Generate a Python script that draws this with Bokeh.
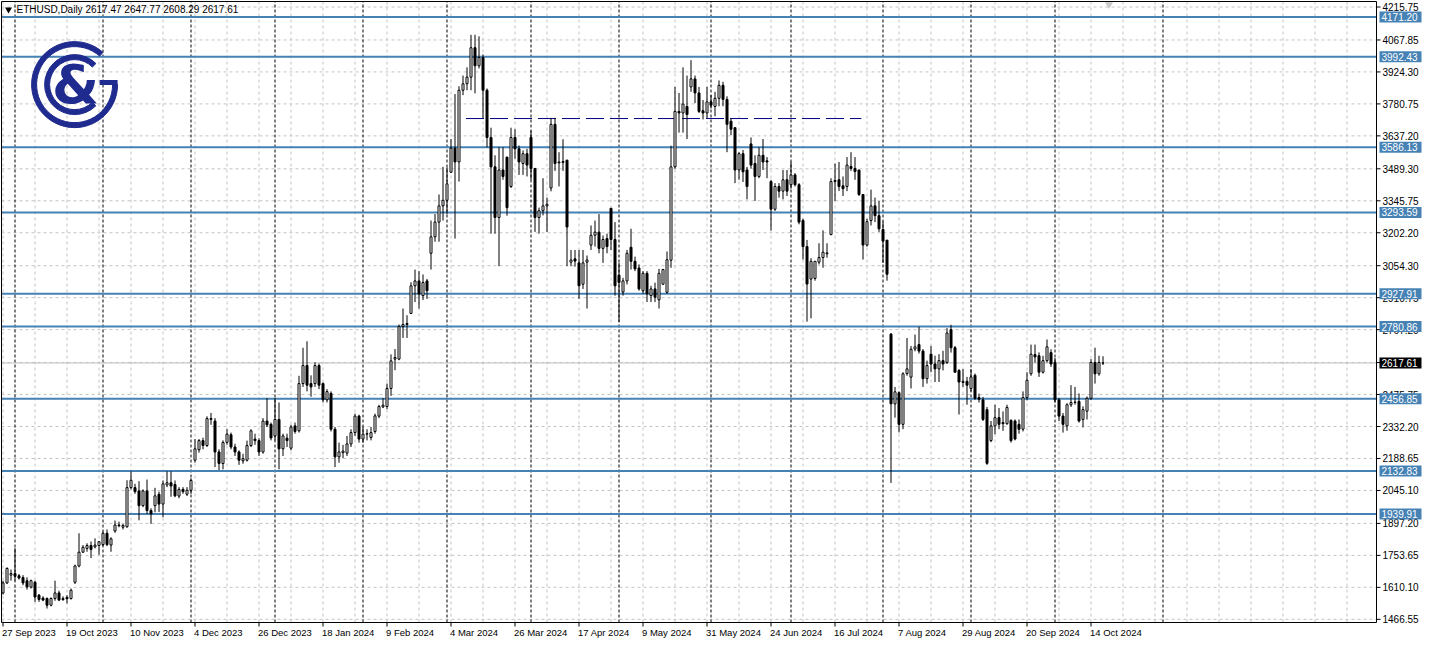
from bokeh.plotting import figure
from bokeh.models import Range1d
from bokeh.embed import file_html
from bokeh.resources import INLINE
from bokeh.core.properties import value

symbol = "ETHUSD,Daily"
header_ohlc = "2617.47 2647.77 2608.29 2617.61"

opens = [1585,1630,1665,1672,1662,1654,1640,1611,1633,1575,1562,1560,1530,1560,1585,1560,1565,1560,1633,1706,
 1768,1785,1798,1792,1798,1802,1853,1800,1863,1890,1880,1882,2058,2058,2043,1977,2043,1955,1977,2028,
 1984,2070,2080,2072,2020,2050,2028,2046,2181,2228,2269,2247,2364,2357,2218,2166,2261,2295,2240,2218,
 2178,2181,2247,2276,2269,2218,2357,2342,2290,2364,2232,2280,2235,2335,2313,2525,2606,2525,2525,2606,
 2525,2452,2481,2320,2196,2215,2213,2254,2305,2379,2276,2298,2283,2310,2379,2420,2422,2503,2635,2635,
 2781,2790,2840,2964,2986,2920,2986,3110,3184,3250,3323,3348,3474,3582,3520,3842,3871,3901,4033,3952,
 3989,3842,3630,3498,3271,3484,3542,3410,3630,3579,3513,3557,3630,3491,3271,3301,3323,3403,3689,3516,
 3518,3528,3070,3085,3067,2971,3070,3147,3191,3205,3132,3176,3312,3172,3012,2936,2986,3137,3074,3044,
 2942,3020,2920,2950,2901,2971,2935,3079,3498,3747,3740,3769,3857,3893,3830,3750,3740,3790,3769,3806,
 3864,3801,3703,3674,3484,3557,3484,3601,3513,3455,3550,3525,3432,3308,3410,3389,3440,3418,3462,3418,
 3257,3140,2994,2997,3070,3091,3108,3194,3432,3440,3413,3410,3500,3491,3484,3374,3147,3257,3323,3279,
 3217,3169,2747,2434,2484,2342,2570,2554,2680,2700,2671,2547,2657,2613,2591,2628,2620,2767,2686,2584,
 2530,2535,2503,2562,2462,2452,2408,2269,2335,2372,2350,2345,2360,2357,2342,2320,2462,2569,2655,2650,
 2576,2628,2664,2620,2452,2379,2335,2430,2440,2445,2364,2401,2459,2620,2569,2617.47]
highs = [1640,1700,1690,1786,1670,1665,1655,1645,1640,1580,1570,1565,1565,1640,1595,1570,1575,1605,1712,1853,
 1800,1808,1816,1830,1818,1860,1870,1835,1910,1905,1895,2091,2131,2075,2087,2050,2094,1965,2057,2040,
 2090,2131,2131,2090,2060,2060,2060,2100,2276,2276,2282,2378,2393,2370,2230,2270,2320,2305,2255,2225,
 2210,2269,2320,2300,2280,2370,2460,2350,2460,2440,2300,2300,2340,2350,2560,2686,2715,2562,2620,2615,
 2530,2500,2490,2330,2260,2250,2290,2320,2390,2385,2330,2320,2330,2390,2430,2460,2525,2656,2680,2790,
 2862,2832,2980,3037,3030,3015,2995,3257,3286,3374,3498,3495,3623,3825,3860,3908,3945,4091,4091,4084,
 4003,3850,3674,3550,3586,3586,3542,3674,3667,3594,3572,3579,3660,3491,3315,3447,3360,3718,3718,3564,
 3622,3530,3125,3125,3125,3125,3100,3235,3257,3286,3190,3198,3312,3250,3067,3000,3125,3220,3095,3060,
 3030,3030,2964,2978,3040,3040,3118,3593,3857,3830,3945,3908,3977,3908,3857,3798,3857,3820,3835,3886,
 3880,3815,3715,3674,3564,3574,3498,3630,3550,3586,3623,3542,3440,3425,3425,3484,3484,3520,3470,3425,
 3265,3170,3088,3074,3155,3213,3155,3447,3513,3520,3455,3542,3564,3542,3484,3374,3265,3396,3360,3345,
 3252,3169,2752,2510,2490,2576,2730,2694,2745,2780,2680,2628,2694,2650,2657,2672,2774,2789,2694,2590,
 2590,2555,2590,2570,2480,2465,2420,2357,2430,2415,2400,2430,2364,2364,2364,2490,2576,2700,2700,2665,
 2650,2723,2679,2640,2460,2393,2437,2518,2510,2481,2423,2467,2635,2686,2650,2647.77]
lows = [1578,1625,1640,1640,1645,1620,1600,1605,1545,1545,1548,1515,1525,1550,1548,1550,1538,1555,1625,1700,
 1765,1770,1742,1785,1757,1795,1795,1770,1855,1880,1870,1878,2050,2030,1911,1970,1940,1895,1947,1948,
 1925,2060,2017,2015,2010,2030,2020,2030,2170,2215,2230,2240,2340,2150,2137,2140,2250,2230,2200,2160,
 2165,2175,2240,2250,2200,2210,2330,2270,2270,2140,2200,2240,2225,2300,2305,2510,2490,2466,2510,2500,
 2440,2440,2310,2150,2170,2190,2200,2240,2290,2260,2260,2270,2270,2300,2370,2415,2410,2470,2585,2630,
 2730,2730,2840,2891,2862,2900,2905,3037,3162,3162,3257,3286,3470,3176,3432,3820,3842,3842,3828,3940,
 3718,3586,3198,3198,3052,3440,3279,3403,3535,3462,3462,3455,3440,3206,3198,3280,3206,3388,3480,3410,
 3480,3052,3052,3050,2905,2950,2862,3125,3140,3110,3067,3110,3125,2920,2803,2920,2970,3037,3030,2942,
 2928,2891,2891,2891,2862,2970,2928,3045,3490,3652,3652,3623,3835,3784,3740,3711,3718,3760,3725,3770,
 3770,3564,3640,3425,3440,3430,3352,3490,3345,3447,3484,3447,3213,3300,3360,3352,3367,3400,3410,3240,
 3082,2803,2818,2987,3060,3045,3090,3191,3345,3390,3367,3389,3480,3440,3367,3082,3140,3235,3250,3206,
 3067,2987,2079,2372,2306,2320,2560,2503,2670,2660,2510,2525,2576,2532,2532,2584,2613,2664,2576,2386,
 2510,2430,2490,2452,2440,2357,2160,2262,2298,2320,2313,2340,2260,2270,2300,2310,2450,2560,2620,2555,
 2570,2620,2600,2440,2357,2305,2313,2420,2430,2350,2328,2364,2452,2525,2560,2608.29]
closes = [1630,1695,1672,1660,1652,1630,1612,1640,1567,1556,1553,1530,1560,1585,1553,1555,1559,1597,1706,1768,
 1790,1798,1780,1800,1815,1853,1802,1828,1890,1887,1888,2058,2091,2040,1977,2043,1955,1940,2021,1984,
 2075,2080,2065,2021,2050,2040,2046,2090,2232,2269,2247,2368,2368,2218,2166,2261,2298,2240,2218,2181,
 2188,2247,2313,2269,2218,2357,2340,2281,2364,2232,2290,2269,2330,2310,2525,2606,2518,2510,2606,2518,
 2452,2489,2320,2196,2218,2222,2254,2305,2379,2276,2298,2300,2305,2380,2422,2428,2503,2627,2642,2781,
 2790,2795,2964,2986,2927,2979,2942,3184,3250,3323,3348,3422,3582,3520,3842,3871,3901,4033,3952,3989,
 3842,3630,3498,3271,3484,3455,3315,3630,3579,3520,3557,3506,3491,3271,3301,3323,3330,3689,3513,3520,
 3522,3228,3080,3075,2964,3067,3080,3191,3205,3132,3172,3140,3172,2964,2979,2986,3110,3074,3040,2950,
 3020,2928,2950,2913,3020,3037,3081,3498,3747,3740,3780,3733,3893,3830,3747,3740,3790,3775,3806,3864,
 3801,3689,3667,3484,3557,3476,3410,3506,3455,3550,3520,3520,3308,3410,3389,3440,3389,3462,3418,3250,
 3140,2972,3074,3074,3091,3115,3112,3432,3437,3410,3400,3506,3491,3477,3374,3147,3252,3323,3279,3220,
 3165,3016,2434,2488,2342,2569,2591,2679,2690,2671,2547,2606,2613,2591,2628,2613,2752,2686,2576,2532,
 2535,2518,2555,2459,2455,2364,2167,2335,2372,2342,2345,2418,2269,2276,2320,2462,2540,2657,2645,2576,
 2628,2690,2613,2452,2379,2342,2430,2440,2442,2357,2408,2459,2620,2569,2620,2617.61]

date_label_bars = [0,16,32,48,64,80,96,112,128,144,160,176,192,208,224,240,256,272]
date_labels = ["27 Sep 2023","19 Oct 2023","10 Nov 2023","4 Dec 2023","26 Dec 2023","18 Jan 2024",
 "9 Feb 2024","4 Mar 2024","26 Mar 2024","17 Apr 2024","9 May 2024","31 May 2024","24 Jun 2024",
 "16 Jul 2024","7 Aug 2024","29 Aug 2024","20 Sep 2024","14 Oct 2024"]
grid_bars = list(range(0, 344, 8))
month_start_bars = [3,25,47,68,90,111,132,154,177,197,220,242,263,290]
price_ticks = [4215.75,4067.85,3924.30,3780.75,3637.20,3489.30,3345.75,3202.20,3054.30,2910.75,
 2767.20,2619.30,2475.75,2332.20,2188.65,2045.10,1897.20,1753.65,1610.10,1466.55]
levels = [4171.20,3992.43,3586.13,3293.59,2927.91,2780.86,2456.85,2132.83,1939.91]
range_level = 3715.0
range_start_bar = 115.75
range_end_bar = 214.6
last_price = 2617.61
shift_marker_bar = 276.5

# ---- layout (pixels) ----
W, H = 1422, 642
CH_L, CH_R, CH_T, CH_B = 1, 1376, 1, 622      # chart area edges on the canvas
PX_PER_BAR = 4.0
X0 = -0.375                                    # bar value at the chart's left edge
X1 = X0 + (CH_R - CH_L) / PX_PER_BAR
Y0, Y1 = 1452.3, 4240.5                        # price range of the chart area
sx = PX_PER_BAR
sy = (CH_B - CH_T) / (Y1 - Y0)
def dxp(px): return px / sx
def dyp(px): return px / sy

FONT = "Liberation Sans"
BLUE = "#4682B4"
NAVY = "#1f2b8e"
GRID = "#c4c4c4"

p = figure(width=W, height=H,
           x_range=Range1d(X0 - dxp(CH_L), X0 + dxp(W - CH_L)),
           y_range=Range1d(Y0 - dyp(H - CH_B), Y1 + dyp(CH_T)),
           x_axis_location=None, y_axis_location=None, output_backend="svg",
           toolbar_location=None, min_border=0)
p.outline_line_color = None
p.xgrid.visible = False
p.ygrid.visible = False
p.background_fill_color = "white"
p.border_fill_color = "white"

# grid lines
p.segment(x0=grid_bars, y0=[Y0] * len(grid_bars), x1=grid_bars, y1=[Y1] * len(grid_bars),
          line_color=GRID, line_dash="3 3", line_width=1)
p.segment(x0=[X0] * len(price_ticks), y0=price_ticks, x1=[X1] * len(price_ticks), y1=price_ticks,
          line_color=GRID, line_dash="3 3", line_width=1)

# month separators
p.segment(x0=month_start_bars, y0=[Y0] * len(month_start_bars), x1=month_start_bars,
          y1=[Y1] * len(month_start_bars), line_color="black", line_dash="3 2", line_width=1)

# current price line
p.segment(x0=[X0], y0=[last_price], x1=[X1], y1=[last_price], line_color="#c0c0c0", line_width=1)

# support / resistance levels
p.segment(x0=[X0] * len(levels), y0=levels, x1=[X1] * len(levels), y1=levels,
          line_color=BLUE, line_width=2)

# range line
p.segment(x0=[range_start_bar], y0=[range_level], x1=[range_end_bar], y1=[range_level],
          line_color="#000080", line_dash="18 6", line_width=1)

# candles
n = len(closes)
idx = list(range(n))
tops = [max(a, b) for a, b in zip(opens, closes)]
bots = [min(a, b) for a, b in zip(opens, closes)]
fills = ["white" if c >= o else "black" for o, c in zip(opens, closes)]
p.segment(x0=idx, y0=lows, x1=idx, y1=highs, line_color="black", line_width=1)
p.vbar(x=idx, width=0.5, top=tops, bottom=bots, fill_color=fills, line_color="black", line_width=1)

# chart frame and axes
p.segment(x0=[X0, X0, X0, X1], y0=[Y0, Y1, Y0, Y0], x1=[X1, X1, X0, X1], y1=[Y0, Y1, Y1, Y1],
          line_color="black", line_width=1)
p.segment(x0=[X1] * len(price_ticks), y0=price_ticks, x1=[X1 + dxp(4)] * len(price_ticks),
          y1=price_ticks, line_color="black", line_width=1)
p.text(x=[X1 + dxp(6)] * len(price_ticks), y=price_ticks, text=[f"{t:.2f}" for t in price_ticks],
       text_font=value(FONT), text_font_size="10px", text_color="black",
       text_align="left", text_baseline="middle")
p.segment(x0=date_label_bars, y0=[Y0] * len(date_label_bars), x1=date_label_bars,
          y1=[Y0 - dyp(4)] * len(date_label_bars), line_color="black", line_width=1)
p.text(x=[b - dxp(1) for b in date_label_bars], y=[Y0 - dyp(4)] * len(date_label_bars),
       text=date_labels, text_font=value(FONT), text_font_size="9.5px", text_color="black",
       text_align="left", text_baseline="top")

# price tags
p.rect(x=[X1 + dxp(24)] * len(levels), y=levels, width=42, height=11, width_units="screen",
       height_units="screen", fill_color=BLUE, line_color=None)
p.text(x=[X1 + dxp(5)] * len(levels), y=levels, text=[f"{lv:.2f}" for lv in levels],
       text_font=value(FONT), text_font_size="10px", text_color="white",
       text_align="left", text_baseline="middle")
p.rect(x=[X1 + dxp(24)], y=[last_price], width=42, height=11, width_units="screen",
       height_units="screen", fill_color="black", line_color=None)
p.text(x=[X1 + dxp(5)], y=[last_price], text=[f"{last_price:.2f}"],
       text_font=value(FONT), text_font_size="10px", text_color="white",
       text_align="left", text_baseline="middle")

# chart shift marker
p.scatter(x=[shift_marker_bar], y=[Y1 - dyp(3)], marker="inverted_triangle", size=8,
          fill_color="#c8c8c8", line_color=None)

# logo
lx, ly = 17.9, 3867.3
p.annular_wedge(x=[lx], y=[ly], inner_radius=38, outer_radius=43, inner_radius_units="screen",
                outer_radius_units="screen", start_angle=0.85, end_angle=6.283, color=NAVY)
p.annular_wedge(x=[lx], y=[ly], inner_radius=25, outer_radius=30, inner_radius_units="screen",
                outer_radius_units="screen", start_angle=0.78, end_angle=5.50, color=NAVY)
p.rect(x=[lx + dxp(34)], y=[ly + dyp(2)], width=18, height=5, width_units="screen",
       height_units="screen", fill_color=NAVY, line_color=None)
p.text(x=[lx + dxp(1)], y=[ly], text=["&"], text_font=value("DejaVu Sans"), text_font_style="bold",
       text_font_size="54px", text_color=NAVY, text_align="center", text_baseline="middle")

# header
p.scatter(x=[X0 + dxp(7)], y=[Y1 - dyp(8)], marker="inverted_triangle", size=7,
          fill_color="black", line_color=None)
p.text(x=[X0 + dxp(15)], y=[Y1 - dyp(2)], text=[symbol + "  " + header_ohlc],
       text_font=value(FONT), text_font_size="10px", text_color="black",
       text_align="left", text_baseline="top")

open("out.html", "w").write(file_html(p, INLINE))
